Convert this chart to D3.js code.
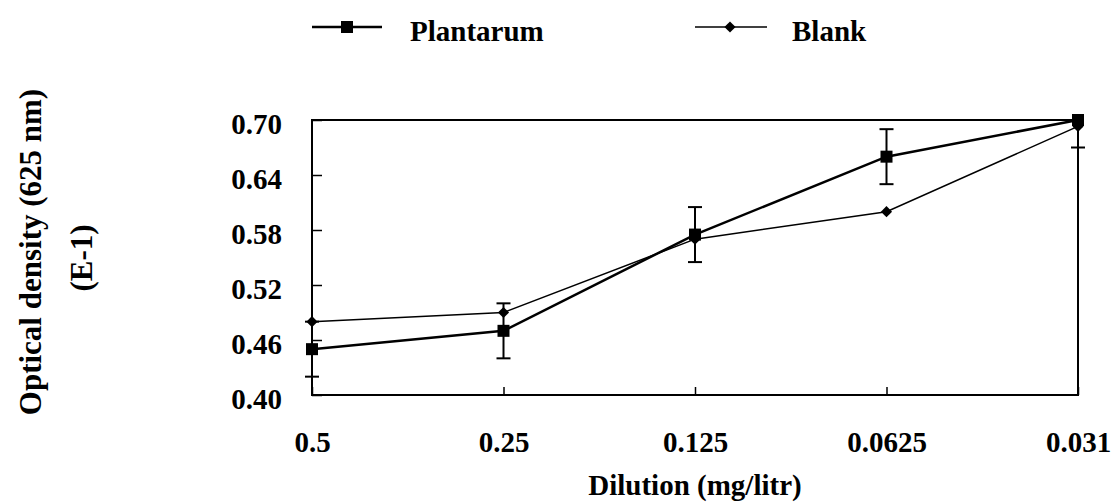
<!DOCTYPE html>
<html>
  <head>
    <title>Optical density vs dilution</title>
    <style>
      body {
        margin: 0;
        padding: 0;
        overflow: hidden;
        background: #fff;
      }
      svg {
        display: block;
      }
      text {
        font-family: 'Liberation Serif', 'Times New Roman', serif;
        font-weight: bold;
        font-size: 29px;
        fill: #000;
      }
    </style>
    <script src="https://unpkg.com/d3@7.1.1/dist/d3.min.js"></script>
  </head>
  <body>
    <svg></svg>
    <script>
      // Data
      const dilutions = ['0.5', '0.25', '0.125', '0.0625', '0.031'];
      const plantarum = [0.45, 0.47, 0.575, 0.66, 0.70];
      const plantarumErr = [0.03, 0.03, 0.03, 0.03, 0.03];
      const blank = [0.48, 0.49, 0.57, 0.60, 0.693];
      const yTicks = [0.40, 0.46, 0.52, 0.58, 0.64, 0.70];

      const width = 1113;
      const height = 503;
      const margin = { top: 120, right: 35, bottom: 108, left: 312 };

      const svg = d3.select('svg').attr('width', width).attr('height', height);

      const x = d3.scalePoint()
        .domain(dilutions)
        .range([margin.left, width - margin.right]);

      const y = d3.scaleLinear()
        .domain([0.40, 0.70])
        .range([height - margin.bottom, margin.top]);

      // Ejes (ticks hacia dentro)
      const yAxis = svg.append('g')
        .attr('transform', `translate(${margin.left},0)`)
        .call(d3.axisLeft(y).tickValues(yTicks).tickFormat(d3.format('.2f'))
          .tickSize(-10).tickPadding(30));
      yAxis.select('.domain').remove();
      yAxis.selectAll('line').attr('stroke', '#000').attr('stroke-width', 1.5);
      yAxis.selectAll('text').attr('dy', '0.48em')
        .attr('font-size', null).attr('font-family', null);

      const xAxis = svg.append('g')
        .attr('transform', `translate(0,${height - margin.bottom})`)
        .call(d3.axisBottom(x).tickSize(-8).tickPadding(36));
      xAxis.select('.domain').remove();
      xAxis.selectAll('line').attr('stroke', '#000').attr('stroke-width', 1.5);
      xAxis.selectAll('text').attr('font-size', null).attr('font-family', null);

      // Marco del área de trazado
      svg.append('rect')
        .attr('x', margin.left)
        .attr('y', margin.top)
        .attr('width', width - margin.left - margin.right)
        .attr('height', height - margin.top - margin.bottom)
        .attr('fill', 'none')
        .attr('stroke', '#000')
        .attr('stroke-width', 2);

      // Barras de error (recortadas al eje)
      const clampY = (v) => y(Math.max(0.40, Math.min(0.70, v)));
      const errG = svg.append('g').attr('stroke', '#000').attr('stroke-width', 2);
      dilutions.forEach((d, i) => {
        const lo = plantarum[i] - plantarumErr[i];
        const hi = plantarum[i] + plantarumErr[i];
        errG.append('line')
          .attr('x1', x(d)).attr('x2', x(d))
          .attr('y1', clampY(lo)).attr('y2', clampY(hi));
        [lo, hi].forEach((v) => {
          if (v < 0.40 || v > 0.70) return;
          errG.append('line')
            .attr('x1', x(d) - 7).attr('x2', x(d) + 7)
            .attr('y1', y(v)).attr('y2', y(v));
        });
      });

      const line = d3.line()
        .x((d, i) => x(dilutions[i]))
        .y((d) => y(d));

      // Serie Blank (línea fina, rombos)
      svg.append('path')
        .datum(blank)
        .attr('d', line)
        .attr('fill', 'none')
        .attr('stroke', '#000')
        .attr('stroke-width', 1.5);

      // rombo = cuadrado girado 45°
      const diamond = d3.symbol().type(d3.symbolSquare).size(62);
      svg.selectAll('.blank-pt')
        .data(blank)
        .enter()
        .append('path')
        .attr('d', diamond)
        .attr('transform', (d, i) => `translate(${x(dilutions[i])},${y(d)}) rotate(45)`)
        .attr('fill', '#000');

      // Serie Plantarum (línea gruesa, cuadrados)
      svg.append('path')
        .datum(plantarum)
        .attr('d', line)
        .attr('fill', 'none')
        .attr('stroke', '#000')
        .attr('stroke-width', 2.5);

      const sq = 12;
      svg.selectAll('.plant-pt')
        .data(plantarum)
        .enter()
        .append('rect')
        .attr('x', (d, i) => x(dilutions[i]) - sq / 2)
        .attr('y', (d) => y(d) - sq / 2)
        .attr('width', sq)
        .attr('height', sq)
        .attr('fill', '#000');

      // Títulos de ejes
      svg.append('text')
        .attr('x', (margin.left + width - margin.right) / 2)
        .attr('y', 495)
        .attr('text-anchor', 'middle')
        .text('Dilution (mg/litr)');

      svg.append('text')
        .attr('transform', 'translate(41,252) rotate(-90)')
        .attr('text-anchor', 'middle')
        .style('font-size', '31px')
        .text('Optical density (625 nm)');

      svg.append('text')
        .attr('transform', 'translate(92,258) rotate(-90)')
        .attr('text-anchor', 'middle')
        .style('font-size', '31px')
        .text('(E-1)');

      // Leyenda
      const legend = svg.append('g');
      const p = legend.append('g').attr('transform', 'translate(312,27)');
      p.append('line').attr('x1', 0).attr('x2', 70).attr('stroke', '#000').attr('stroke-width', 2.5);
      p.append('rect').attr('x', 35 - sq / 2).attr('y', -sq / 2).attr('width', sq).attr('height', sq);
      p.append('text').attr('x', 98).attr('y', 14).text('Plantarum');

      const b = legend.append('g').attr('transform', 'translate(695,27)');
      b.append('line').attr('x1', 0).attr('x2', 72).attr('stroke', '#000').attr('stroke-width', 1.5);
      b.append('path').attr('d', diamond).attr('transform', 'translate(35,0) rotate(45)');
      b.append('text').attr('x', 97).attr('y', 14).text('Blank');
    </script>
  </body>
</html>
